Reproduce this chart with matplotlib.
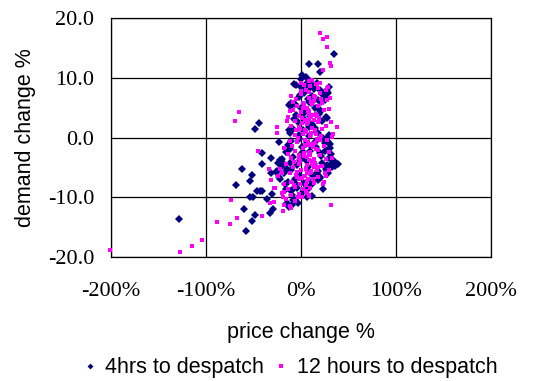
"""Price change vs demand change scatter (4hrs / 12 hours to despatch)."""
import matplotlib
matplotlib.use("Agg")
import matplotlib.pyplot as plt
from matplotlib.ticker import PercentFormatter, FormatStrFormatter

plt.rcParams["axes.unicode_minus"] = False

# ── data (price change as fraction, demand change in %) ────────────────────
x_4hrs = [
    -1.28, -0.58, -0.60, -0.52, -0.48, -0.54, -0.50, -0.62, -0.68, -0.52,
    -0.535, -0.48, -0.44, -0.41, -0.41, -0.46, -0.43, -0.41, -0.36, -0.33,
    -0.29, -0.30, -0.31, -0.31, -0.26, -0.23, -0.24, -0.23, -0.22, -0.20,
    -0.17, -0.15, -0.13, -0.09, -0.06, -0.07, -0.13, -0.13, -0.10, -0.07,
    0.01, 0.08, 0.18, 0.20, 0.35, 0.29, 0.30, 0.25, 0.27, 0.31,
    0.29, 0.33, 0.39, 0.33, 0.26, 0.20, 0.18, 0.11, 0.03, -0.02, -0.01,
    -0.05, 0.00, 0.02, 0.05, 0.08, 0.10, 0.13, 0.17, 0.20, 0.22,
    0.25, 0.27, 0.24, 0.18, 0.12, 0.07, 0.03, -0.02, -0.06, -0.10,
    0.00, 0.06, 0.15, 0.20, 0.10, 0.04, -0.03, -0.08, 0.02, 0.12,
    0.22, 0.18, 0.08, -0.02, -0.10, -0.14, 0.05, 0.15, 0.25, 0.28,
    0.20, 0.10, 0.00, -0.08, -0.16, -0.20, -0.12, -0.04, 0.06, 0.14,
    0.22, 0.28, 0.30, 0.18, 0.08, -0.02, -0.10, -0.18, -0.22, -0.14,
    -0.06, 0.03, 0.12, 0.20, -0.04, -0.10, 0.00, -0.16, 0.06, -0.08,
    -0.03, 0.01, 0.09, 0.16, -0.05, 0.11, 0.21, 0.26, 0.30, -0.12,
    0.04, 0.13, 0.00, 0.05, 0.23, 0.27, 0.32, 0.35,
    0.14, 0.24, -0.01, 0.09, 0.19, 0.03, -0.07, 0.16, 0.26, 0.11,
    -0.11, 0.02, 0.21, 0.07, -0.15, 0.17, 0.29, -0.05, 0.12, 0.25,
    0.36, 0.31, 0.23, -0.19, -0.25, -0.09, 0.15, 0.06, -0.02, 0.19,
]
y_4hrs = [
    -13.6, -15.6, -11.9, -13.9, -12.9, -9.9, -9.9, -5.2, -7.9, -6.2,
    -7.2, 1.5, 2.5, -2.6, -4.5, -8.9, -8.9, -8.9, -10.2, -12.6,
    -11.9, -9.5, -3.5, -6.0, -5.8, -6.6, -4.3, -0.8, -3.8, -4.7,
    -7.7, -11.0, -11.6, -11.3, -10.5, -8.5, 1.3, 5.5, 5.7, 8.9,
    10.5, 12.3, 12.3, 10.9, 13.9, 7.5, 8.4, 6.3, 3.2, -1.1,
    -0.7, -4.3, -4.5, -4.9, -5.2, -6.6, -7.1, -8.0, -8.8, -6.6, -3.8,
    8.8, 8.5, 7.9, 9.0, 8.2, 9.4, 8.7, 9.2, 8.0, 7.2,
    6.8, 7.7, 6.5, 6.2, 7.0, 6.5, 7.5, 6.8, 5.6, 5.2,
    5.0, 4.6, 5.0, 4.2, 3.6, 3.0, 2.6, 1.5, 1.2, 2.2,
    2.8, 0.8, 0.3, -0.2, -0.5, -1.2, -1.0, -0.8, -0.9, -2.0,
    -2.6, -2.2, -2.8, -3.2, -2.4, -3.6, -4.2, -4.6, -4.0, -4.4,
    -4.2, -4.6, -3.5, -5.6, -5.8, -6.2, -5.4, -6.0, -7.0, -7.4,
    -7.0, -7.6, -7.2, -6.8, -8.4, -9.0, -9.4, -8.6, -8.8, -10.4,
    -11.0, -1.6, 1.8, -1.6, 3.8, 5.8, 6.0, 3.4, 0.5, 0.8,
    -3.6, -6.4, 9.8, 10.2, -8.6, -5.4, -2.8, -4.0,
    8.1, 7.4, 7.1, 5.9, 4.7, 4.1, 3.1, 1.0, -0.3, -1.4,
    -1.9, -2.5, -3.1, -5.0, -5.3, -5.9, -6.0, -7.8, -9.8, -2.3,
    -4.8, -1.8, 0.0, -4.2, -5.6, -9.6, 1.6, -10.0, 0.4, 3.9,
]

x_12hrs = [
    -2.01, -1.27, -1.15, -1.045, -0.88, -0.75, -0.67, -0.74, -0.655, -0.69,
    -0.45, -0.405, -0.325, -0.28, -0.34, -0.31, -0.27, -0.25, -0.255, -0.185,
    -0.18, -0.19, -0.18, -0.20, -0.14, -0.15, -0.11, 0.20, 0.23, 0.27,
    0.27, 0.31, 0.32, 0.23, 0.32, 0.38, 0.325, 0.33, 0.31, 0.29,
    0.255, 0.23, 0.08, 0.01,
    -0.10, -0.05, 0.00, 0.05, 0.10, 0.12, 0.16, 0.18, 0.20, 0.14,
    0.08, 0.02, -0.04, -0.08, 0.00, 0.06, 0.12, 0.18, 0.22, 0.24,
    0.16, 0.10, 0.04, -0.02, -0.06, -0.10, -0.02, 0.06, 0.12, 0.18,
    0.22, 0.26, 0.16, 0.10, 0.02, -0.06, -0.12, -0.04, 0.04, 0.12,
    0.20, 0.24, 0.18, 0.10, 0.02, -0.06, -0.14, -0.18, -0.10, -0.02,
    0.06, 0.14, 0.20, 0.26, 0.22, 0.14, 0.06, -0.02, -0.08, -0.16,
    -0.22, -0.12, -0.04, 0.04, 0.10, 0.18, 0.24, 0.14, 0.06, -0.02,
    -0.10, -0.18, -0.14, -0.06, 0.02, 0.10, -0.10, -0.02, 0.06, -0.16,
    -0.06, -0.12, -0.10, 0.00, 0.08, 0.20, 0.26, 0.28, 0.30, 0.32,
    0.34, 0.28, 0.30, 0.30, 0.26, 0.04, 0.08, -0.08, -0.14, 0.14,
    0.08, 0.00, 0.12, -0.20, -0.24, -0.28,
    0.03, 0.09, 0.15, 0.21, 0.07, 0.13, 0.19, 0.01, 0.05, 0.11,
    0.17, -0.03, 0.07, 0.13, 0.03, 0.09, 0.15, -0.01, 0.05, 0.11,
    0.17, -0.05, 0.01, 0.07, 0.13, -0.07, -0.01, 0.05, 0.09, -0.03,
    0.03, 0.11, 0.15, 0.01, 0.07, -0.05, 0.17, 0.21, 0.09, -0.09,
    0.02, 0.08, 0.14, 0.19, 0.04, 0.10, 0.16, -0.02, 0.06, 0.12,
    -0.04, 0.00, 0.08, 0.15, -0.07, 0.03, 0.11, 0.18, -0.01, 0.05,
]
y_12hrs = [
    -18.8, -19.2, -18.2, -17.1, -14.1, -14.4, -13.4, -10.4, 4.3, 2.7,
    -2.3, -13.1, -11.0, -10.8, -5.2, -7.1, -8.4, 1.7, 0.7, -12.2,
    -11.3, -9.9, -9.1, -6.0, -2.7, 2.7, 4.5, 17.4, 16.5, 16.8,
    15.1, 12.4, 12.0, 11.3, -11.2, 1.7, 0.1, -3.4, 6.6, 8.4,
    -6.0, -7.7, -9.8, -9.9,
    7.0, 6.4, 7.2, 8.0, 8.6, 9.6, 9.0, 8.2, 7.4, 7.0,
    6.6, 5.8, 5.2, 4.6, 4.2, 5.0, 5.6, 5.2, 5.8, 4.6,
    4.0, 3.4, 3.0, 3.6, 2.8, 2.0, 1.8, 2.2, 1.6, 2.6,
    1.4, 2.0, 0.6, 0.2, 0.6, 0.4, -0.6, -0.8, -0.4, -1.0,
    -0.4, -1.4, -2.0, -2.4, -1.8, -2.2, -2.8, -1.8, -3.4, -3.0,
    -3.2, -3.6, -3.0, -3.6, -4.8, -5.0, -4.6, -4.4, -5.0, -4.4,
    -5.2, -6.0, -5.8, -6.4, -6.0, -6.6, -7.4, -7.6, -7.2, -7.0,
    -7.4, -7.8, -8.6, -8.2, -8.6, -8.4, -9.6, -9.4, -9.2, -10.2,
    -10.6, -11.4, -11.8, 9.2, 9.4, 9.2, 8.0, 6.2, 4.8, 2.6,
    0.6, -0.4, -2.4, -5.4, -6.4, 1.2, -1.2, 6.0, 3.4, 3.0,
    4.0, -5.4, -4.0, -9.2, -6.4, -8.4,
    8.8, 7.6, 6.8, 6.4, 4.4, 3.8, 3.2, 2.4, 1.0, 0.8,
    -0.2, 0.0, -0.8, -1.6, -2.6, -3.8, -4.2, -4.0, -5.2, -5.6,
    -5.4, -6.2, -6.8, -6.9, -7.0, -8.0, -7.8, -8.0, -9.6, -10.0,
    5.4, 6.0, 1.2, 3.2, 2.6, 1.2, 3.6, 0.2, -2.6, -1.4,
    4.9, 4.3, 6.1, 3.0, -1.2, -2.9, -1.9, -3.5, -6.0, -4.5,
    -6.6, 7.8, 2.9, -0.9, -4.1, -3.1, -5.7, -4.9, 1.5, -8.9,
]

X_TICKS = [-2.0, -1.0, 0.0, 1.0, 2.0]
Y_TICKS = [-20.0, -10.0, 0.0, 10.0, 20.0]

NAVY = "#000080"
MAGENTA = "#ff00ff"


def main() -> None:
    fig = plt.figure(figsize=(5.34, 3.81), dpi=100)
    ax = fig.add_axes([0.208, 0.325, 0.711, 0.628])

    ax.plot(x_4hrs, y_4hrs, "D", color=NAVY, markersize=4.0,
            markeredgewidth=0, label="4hrs to despatch", zorder=3,
            clip_on=False)
    ax.plot(x_12hrs, y_12hrs, "s", color=MAGENTA, markersize=3.4,
            markeredgewidth=0, label="12 hours to despatch", zorder=4,
            clip_on=False)

    ax.set_xlim(-2.0, 2.0)
    ax.set_ylim(-20.0, 20.0)
    ax.set_xticks(X_TICKS)
    ax.set_yticks(Y_TICKS)
    ax.xaxis.set_major_formatter(PercentFormatter(1.0, decimals=0))
    ax.yaxis.set_major_formatter(FormatStrFormatter("%.1f"))
    ax.tick_params(axis="both", length=0, labelsize=16,
                   labelfontfamily="Liberation Serif")
    ax.tick_params(axis="y", pad=12)
    ax.tick_params(axis="x", pad=18)

    ax.grid(True, color="black", linewidth=0.9)
    ax.set_axisbelow(True)
    for sp in ax.spines.values():
        sp.set_color("black")
        sp.set_linewidth(0.9)

    ax.set_xlabel("price change %", family="Liberation Sans", fontsize=15.5,
                  labelpad=15)
    ax.set_ylabel("demand change %", family="Liberation Sans", fontsize=15.5,
                  labelpad=9)

    fig.legend(loc="center", bbox_to_anchor=(0.544, 0.035), ncol=2,
               frameon=False, prop={"family": "Liberation Sans", "size": 15.5},
               handlelength=0.6, handletextpad=0.4, columnspacing=0.5,
               markerscale=0.75)

    fig.savefig("out.png", dpi=100)
    plt.close(fig)


if __name__ == "__main__":
    main()
